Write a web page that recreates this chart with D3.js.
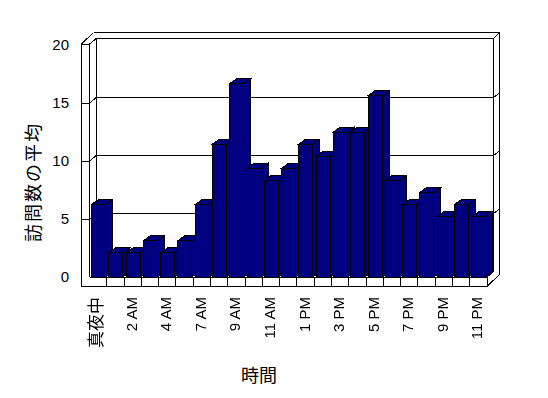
<!DOCTYPE html>
<html>
<head>
<meta charset="utf-8">
<script src="https://cdn.jsdelivr.net/npm/d3@7"></script>
<style>
  html, body { margin: 0; padding: 0; background: #fff; }
  svg { display: block; }
  text { font-family: "Liberation Sans", Arial, sans-serif; fill: #000; }
  .cjk { font-family: "Noto Sans CJK JP", sans-serif; fill: #000; }
</style>
</head>
<body>
<svg id="chart" width="548" height="398">
  <defs>
    <filter id="gray" x="-10%" y="-10%" width="120%" height="120%">
      <feColorMatrix type="saturate" values="0"/>
    </filter>
  </defs>
</svg>
<script>
// ---- data ----
const categories = ["真夜中","1 AM","2 AM","3 AM","4 AM","6 AM","7 AM","8 AM","9 AM","10 AM","11 AM","12 PM",
                    "1 PM","2 PM","3 PM","4 PM","5 PM","6 PM","7 PM","8 PM","9 PM","10 PM","11 PM"];
const values = [6.25,2.08,2.08,3.13,2.08,3.13,6.25,11.46,16.67,9.38,8.33,9.38,
                11.46,10.42,12.5,12.5,15.63,8.33,6.25,7.29,5.21,6.25,5.21];
const yTicks = [0,5,10,15,20];
const xTickLabels = categories.filter((d,i) => i % 2 === 0);
const yTitle = "訪問数の平均";
const xTitle = "時間";

// ---- layout ----
const svg = d3.select("#chart");
const x = d3.scaleBand().domain(categories).range([89.5, 487]).padding(0);
const yF = d3.scaleLinear().domain([0, 20]).range([277, 45]);   // front plane
const wallD = [6.5, -5.3];                                       // front -> back wall
const yB = v => yF(v) + wallD[1];
const xL = x.range()[0], xR = x.range()[1];
const xBL = xL + wallD[0], xBR = xR + wallD[0];
const outerL = 81.5, outerTop = 32.5, outerR = 499.5;
const wallTopF = yF(20) - 1, wallTopB = wallTopF + wallD[1];
const floorBot = 286.5;

const g = svg.append("g").attr("shape-rendering", "crispEdges")
  .attr("stroke", "#000").attr("stroke-width", 1).attr("fill", "none");
const line = (pts) => g.append("path").attr("d", d3.line()(pts));

// back wall frame
line([[xBL, wallTopB], [xBR, wallTopB]]);
line([[xBL, wallTopB], [xBL, yB(0)]]);
line([[xBR, wallTopB], [xBR, yB(0)]]);
line([[xBL, yB(0)], [xBR, yB(0)]]);
line([[outerL + 12, outerTop], [outerR, outerTop]]);
line([[outerR, outerTop], [outerR, yB(0) + 2]]);
line([[xBR, wallTopB], [outerR, outerTop]]);

// gridlines (with diagonal on left wall and on right end of back wall)
yTicks.filter(v => v > 0 && v < 20).forEach(v => {
  line([[xL, yF(v)], [xBL, yB(v)], [xBR, yB(v)], [outerR, yB(v) - 5]]);
});
line([[xL, wallTopF], [xBL, wallTopB]]);

// left wall
line([[outerL, wallTopF], [outerL, floorBot]]);
line([[xL, wallTopF], [xL, yF(0)]]);
line([[outerL, wallTopF], [xL, wallTopF]]);
line([[outerL, wallTopF], [outerL + 12, outerTop]]);
yTicks.filter(v => v > 0 && v < 20).forEach(v => line([[outerL, yF(v)], [xL, yF(v)]]));

// floor
line([[xL, yF(0)], [xR, yF(0)]]);
line([[outerL, floorBot], [xR, floorBot]]);
line([[xR, yF(0)], [xR, floorBot]]);
line([[xR, floorBot], [outerR + 0.5, floorBot - 12.5]]);
line([[xR, yF(0)], [xBR, yB(0)]]);
categories.slice(1).forEach(c => line([[x(c), yF(0)], [x(c), floorBot]]));

// bars
const barD = [7, -5];
const bw = 14, bOff = 2;
const bars = svg.append("g").attr("shape-rendering", "crispEdges");
categories.forEach((c, i) => {
  const x0 = x(c) + bOff, x1 = x0 + bw;
  const yt = yF(values[i]), yb = yF(0);
  const gg = bars.append("g").attr("fill", "#000080").attr("stroke", "#000").attr("stroke-width", 1);
  gg.append("path").attr("d", d3.line()([[x1, yt], [x1 + barD[0], yt + barD[1]], [x1 + barD[0], yb + barD[1]], [x1, yb]]) + "Z");
  gg.append("path").attr("d", d3.line()([[x0, yt], [x1, yt], [x1 + barD[0], yt + barD[1]], [x0 + barD[0], yt + barD[1]]]) + "Z");
  gg.append("rect").attr("x", x0).attr("y", yt).attr("width", bw).attr("height", yb - yt);
});

// y tick labels
svg.append("g").selectAll("text").data(yTicks).join("text")
  .attr("x", 69).attr("y", d => yF(d)).attr("dy", "0.36em")
  .attr("text-anchor", "end").attr("font-size", 15).attr("fill", "#000").text(d => d);

// x tick labels
svg.append("g").attr("filter", "url(#gray)").selectAll("text").data(xTickLabels).join("text")
  .attr("class", d => /[A-Z]/.test(d) ? null : "cjk")
  .attr("font-size", d => /[A-Z]/.test(d) ? 15 : 17)
  .attr("fill", "#000")
  .attr("text-anchor", "end")
  .attr("transform", d => `translate(${x(d) + x.bandwidth() / 2 + 4},297) rotate(-90)`)
  .text(d => d);

// axis titles
svg.append("text").attr("class", "cjk").attr("font-size", 18).attr("fill", "#000")
  .attr("text-anchor", "middle").attr("letter-spacing", 2)
  .attr("transform", "translate(40,182) rotate(-90)")
  .text(yTitle);
svg.append("text").attr("class", "cjk").attr("font-size", 18).attr("fill", "#000")
  .attr("text-anchor", "middle").attr("x", 259).attr("y", 382)
  .text(xTitle);
</script>
</body>
</html>
